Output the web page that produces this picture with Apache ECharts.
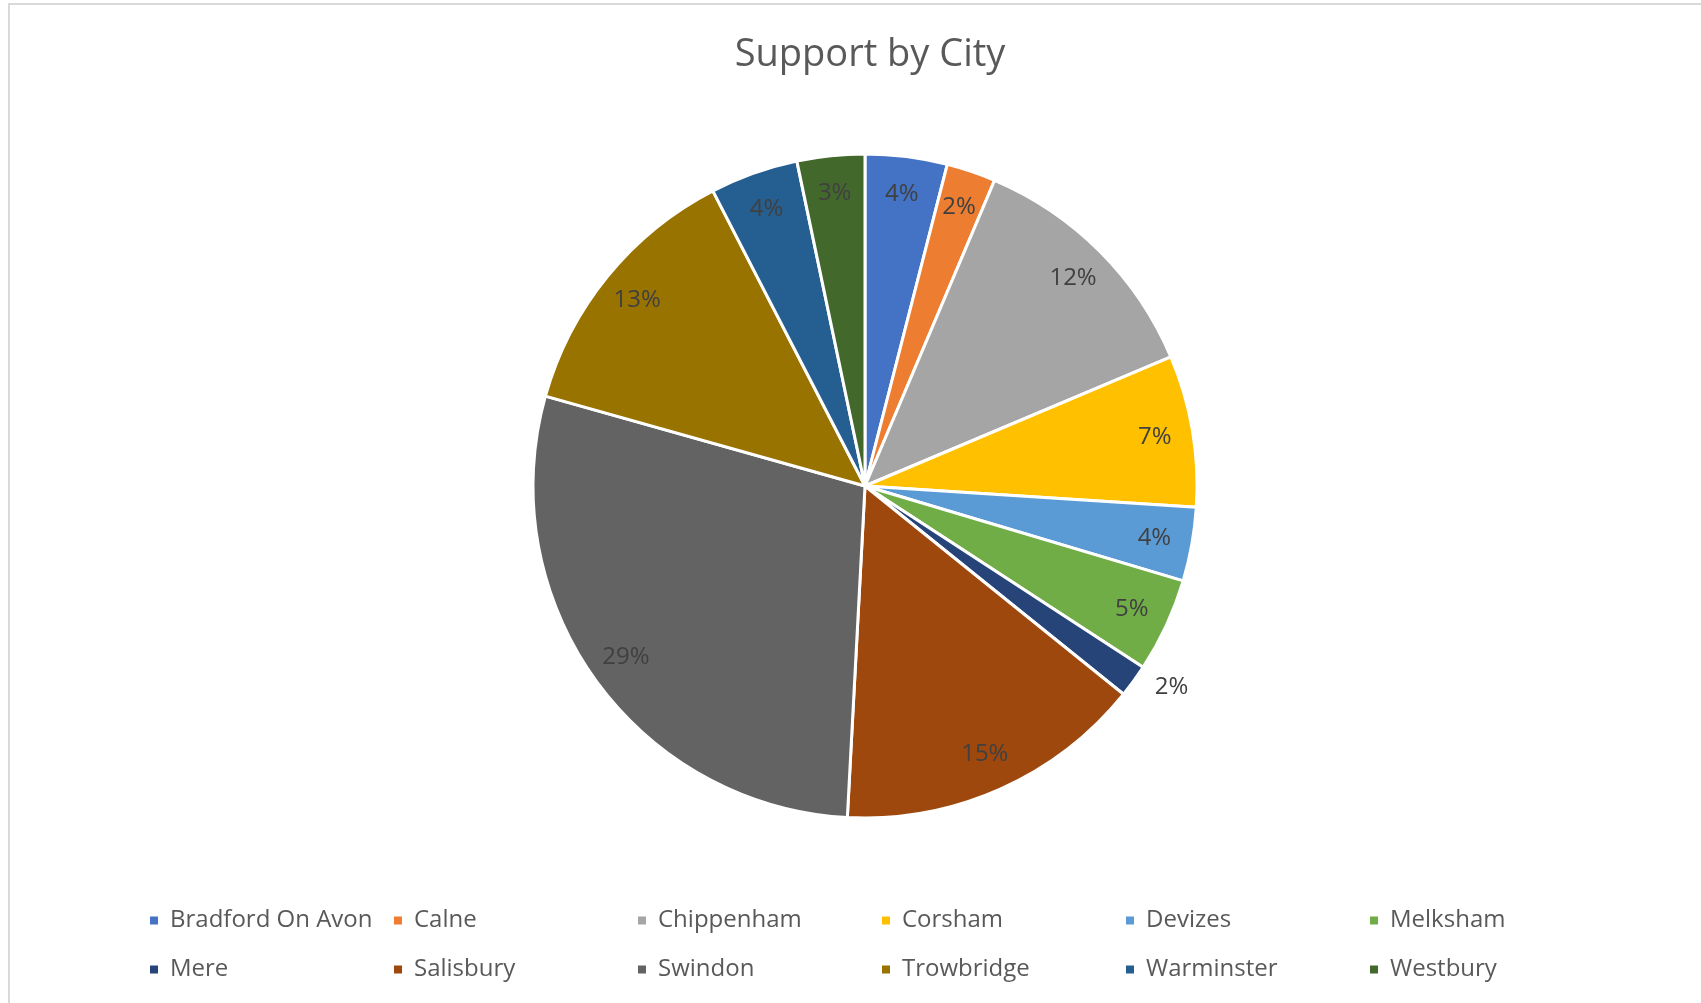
<!DOCTYPE html>
<html>
<head>
<meta charset="utf-8">
<script src="https://cdn.jsdelivr.net/npm/echarts@6/dist/echarts.min.js"></script>
<style>
html,body{margin:0;padding:0;background:#fff;}
#chart{width:1701px;height:1003px;}
</style>
</head>
<body>
<div id="chart"></div>
<script>
const categories = ["Bradford On Avon","Calne","Chippenham","Corsham","Devizes","Melksham","Mere","Salisbury","Swindon","Trowbridge","Warminster","Westbury"];
const values = [4.0, 2.4, 12.3, 7.4, 3.6, 4.6, 1.6, 15.1, 28.6, 13.1, 4.3, 3.3];
const colors = ["#4472C4","#ED7D31","#A5A5A5","#FFC000","#5B9BD5","#70AD47","#264478","#9E480E","#636363","#997300","#255E91","#43682B"];
const titleText = "Support by City";
const outsideLabels = ["Mere"];

const FONT = '"Open Sans", "Noto Sans", sans-serif';
const chart = echarts.init(document.getElementById('chart'), null, {renderer:'canvas'});

const mainData = categories.map((c,i)=>({name:c, value:values[i], itemStyle:{color:colors[i]}}));
const labelData = categories.map((c,i)=>{
  const o = {name:c, value:values[i]};
  if (outsideLabels.includes(c)) {
    o.label = {position:'outside'};
    o.labelLine = {show:false, length:10, length2:8};
  }
  return o;
});
const pctFmt = p => Math.round(p.percent) + '%';

chart.setOption({
  backgroundColor:'#ffffff',
  animation:false,
  color: colors,
  title:{
    text:titleText,
    left:865, top:31, textAlign:'center',
    textStyle:{fontFamily:FONT, fontSize:38, fontWeight:'normal', color:'#595959'}
  },
  legend:{
    data:categories,
    left:143, top:898, width:1470,
    orient:'horizontal',
    icon:'rect', itemWidth:10, itemHeight:10, itemGap:14,
    textStyle:{fontFamily:FONT, fontSize:24, color:'#595959', width:208, overflow:'none', lineHeight:35, padding:[0,0,0,6]}
  },
  graphic:[{
    type:'rect', silent:true, z:-1,
    shape:{x:9, y:4, width:1720, height:1020},
    style:{fill:'none', stroke:'#d9d9d9', lineWidth:2}
  }],
  series:[
    {
      type:'pie',
      name:'main',
      center:[865,486],
      radius:[0,332],
      startAngle:90,
      clockwise:true,
      avoidLabelOverlap:false,
      label:{show:false},
      labelLine:{show:false},
      itemStyle:{borderColor:'#ffffff', borderWidth:3},
      emphasis:{disabled:true},
      data:mainData
    },
    {
      type:'pie',
      name:'labels',
      center:[865,486],
      radius:[250,332],
      startAngle:90,
      clockwise:true,
      silent:true,
      legendHoverLink:false,
      avoidLabelOverlap:false,
      itemStyle:{color:'rgba(0,0,0,0)', borderWidth:0},
      label:{show:true, position:'inside', formatter:pctFmt, fontFamily:FONT, fontSize:24, color:'#404040'},
      labelLine:{show:false},
      emphasis:{disabled:true},
      data:labelData
    }
  ]
});
</script>
</body>
</html>
